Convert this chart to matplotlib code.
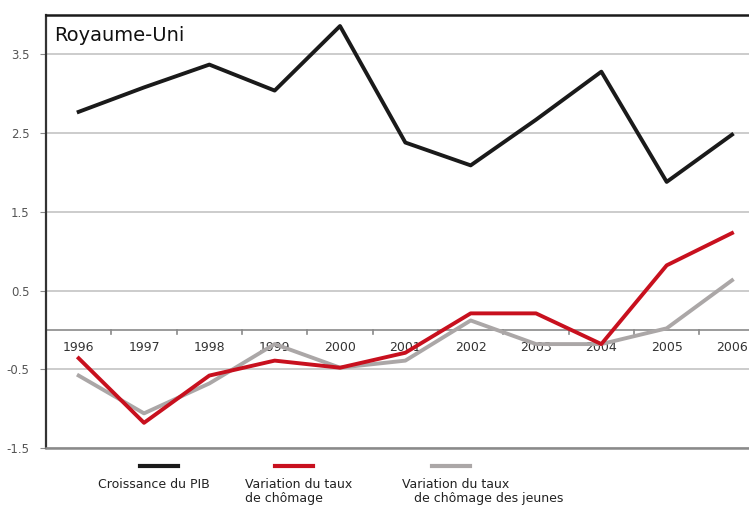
import matplotlib.pyplot as plt
from matplotlib.lines import Line2D

# Data
years = [1996, 1997, 1998, 1999, 2000, 2001, 2002, 2003, 2004, 2005, 2006]
pib = [2.77, 3.08, 3.37, 3.04, 3.86, 2.38, 2.09, 2.67, 3.28, 1.88, 2.48]
chomage = [-0.36, -1.18, -0.58, -0.39, -0.48, -0.29, 0.21, 0.21, -0.18, 0.82, 1.23]
chomage_jeunes = [-0.58, -1.06, -0.68, -0.18, -0.48, -0.39, 0.12, -0.18, -0.18, 0.02, 0.63]
y_ticks = [-1.5, -0.5, 0.5, 1.5, 2.5, 3.5]
legend_labels = ['Croissance du PIB', 'Variation du taux\nde chômage',
                 'Variation du taux\n   de chômage des jeunes']

colors = ['#1a1a1a', '#c8101e', '#aba7a7']

fig = plt.figure(figsize=(7.49, 5.11), dpi=100)
ax = fig.add_axes([46 / 749, 63 / 511, 1 - 46 / 749, 433 / 511])

# grid lines
for v in y_ticks:
    ax.axhline(v, color='#c4c4c4', lw=1.2, zorder=1)
ax.axhline(0, color='#8a8a8a', lw=1.2, zorder=1)
for i in range(len(years) - 1):
    ax.plot([years[i] + 0.5] * 2, [0, -0.05], color='#8a8a8a', lw=1.2, zorder=1)

# year labels under the zero line
for yr in years:
    ax.text(yr, -0.22, str(yr), ha='center', va='center', fontsize=9, color='#333333')

ax.plot(years, chomage_jeunes, color=colors[2], lw=2.8, zorder=3)
ax.plot(years, chomage, color=colors[1], lw=2.8, zorder=4)
ax.plot(years, pib, color=colors[0], lw=2.8, zorder=5)

ax.set_xlim(1995.5, 2006.26)
ax.set_ylim(-1.5, 4.0)
ax.set_xticks([])
ax.set_yticks(y_ticks)
ax.set_yticklabels([str(v) for v in y_ticks], fontsize=8.5, color='#555555')
ax.tick_params(axis='y', length=4, color='#8a8a8a', pad=8)

ax.spines['right'].set_visible(False)
ax.spines['top'].set_color('#1a1a1a')
ax.spines['top'].set_linewidth(1.8)
ax.spines['left'].set_color('#333333')
ax.spines['left'].set_linewidth(1.6)
ax.spines['bottom'].set_color('#8a8a8a')
ax.spines['bottom'].set_linewidth(1.8)

ax.text(0.012, 0.975, 'Royaume-Uni', transform=ax.transAxes, ha='left', va='top',
        fontsize=14, color='#111111')

# custom legend below the chart
leg_x = [(140, 178, 98), (275, 313, 245), (432, 470, 402)]
for (x0, x1, tx), c, lab in zip(leg_x, colors, legend_labels):
    fig.add_artist(Line2D([x0 / 749, x1 / 749], [1 - 466 / 511] * 2, color=c, lw=3))
    fig.text(tx / 749, 1 - 478 / 511, lab, ha='left', va='top', fontsize=9,
             color='#222222', linespacing=1.1)

fig.savefig('out.png', dpi=100)
